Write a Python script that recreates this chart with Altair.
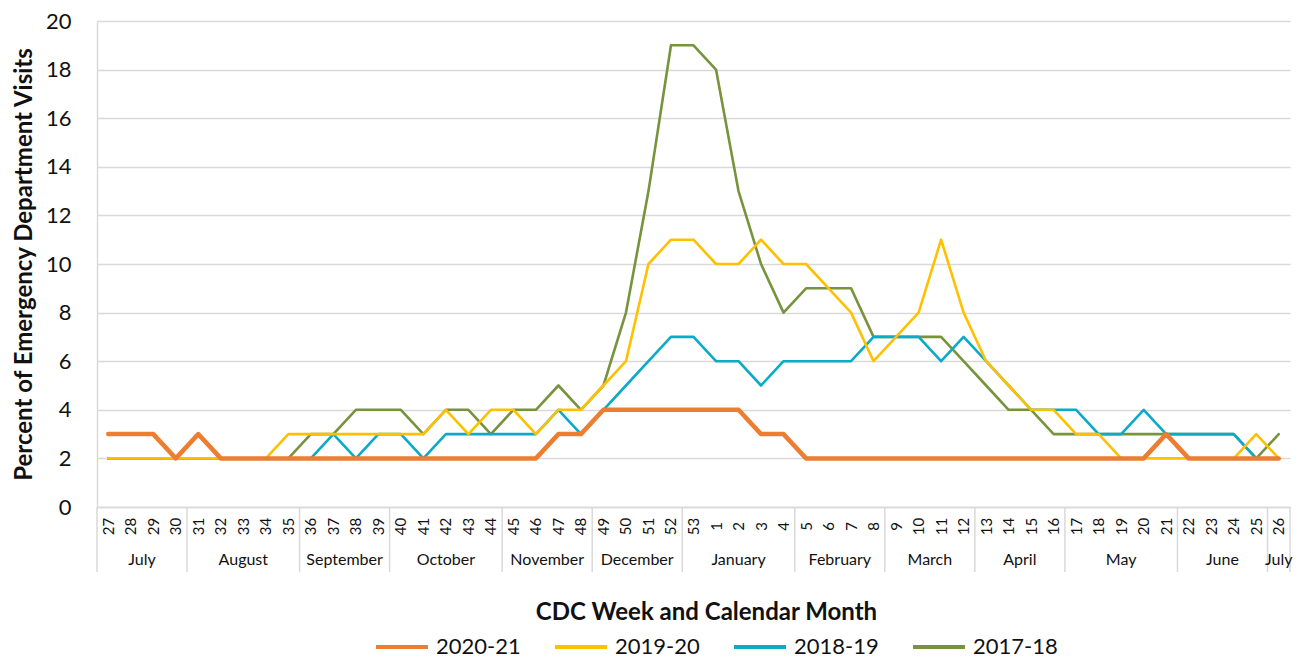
import altair as alt
import pandas as pd

# ---------------- data ----------------
weeks = list(range(27, 54)) + list(range(1, 27))

seasons = ["2020-21", "2019-20", "2018-19", "2017-18"]
colors = ["#ED7D31", "#FFC000", "#0AAAC8", "#77933C"]

s2020_21 = [3, 3, 3, 2,  3, 2, 2, 2, 2,  2, 2, 2, 2,  2, 2, 2, 2, 2,  2, 2, 3, 3,
            4, 4, 4, 4,  4, 4, 4, 3, 3,  2, 2, 2, 2,  2, 2, 2, 2,  2, 2, 2, 2,
            2, 2, 2, 2, 3,  2, 2, 2, 2,  2]
s2019_20 = [2, 2, 2, 2,  2, 2, 2, 2, 3,  3, 3, 3, 3,  3, 3, 4, 3, 4,  4, 3, 4, 4,
            5, 6, 10, 11,  11, 10, 10, 11, 10,  10, 9, 8, 6,  7, 8, 11, 8,  6, 5, 4, 4,
            3, 3, 2, 2, 2,  2, 2, 2, 3,  2]
s2018_19 = [2, 2, 2, 2,  2, 2, 2, 2, 2,  2, 3, 2, 3,  3, 2, 3, 3, 3,  3, 3, 4, 3,
            4, 5, 6, 7,  7, 6, 6, 5, 6,  6, 6, 6, 7,  7, 7, 6, 7,  6, 5, 4, 4,
            4, 3, 3, 4, 3,  3, 3, 3, 2,  2]
s2017_18 = [2, 2, 2, 2,  2, 2, 2, 2, 2,  3, 3, 4, 4,  4, 3, 4, 4, 3,  4, 4, 5, 4,
            5, 8, 13, 19,  19, 18, 13, 10, 8,  9, 9, 9, 7,  7, 7, 7, 6,  5, 4, 4, 3,
            3, 3, 3, 3, 3,  3, 3, 3, 2,  3]

months = ["July", "August", "September", "October", "November", "December",
          "January", "February", "March", "April", "May", "June", "July"]
month_week_counts = [4, 5, 4, 5, 4, 4, 5, 4, 4, 4, 5, 4, 1]

# ---------------- tables ----------------
rows = []
for s, vals in zip(seasons, [s2020_21, s2019_20, s2018_19, s2017_18]):
    for i, (w, v) in enumerate(zip(weeks, vals)):
        rows.append({"idx": i, "week": str(w), "season": s, "value": v})
df = pd.DataFrame(rows)

mrows, brows = [], [{"idx": -0.5}]
start = 0
for m, n in zip(months, month_week_counts):
    mrows.append({"idx": start + (n - 1) / 2, "month": m})
    start += n
    brows.append({"idx": start - 0.5})
mdf = pd.DataFrame(mrows)
bdf = pd.DataFrame(brows)

# ---------------- chart ----------------
W, H = 1193, 486
FONT = "Lato"
TXT = "#111111"
GRID = "#D9D9D9"

label_expr = "[" + ",".join("'%s'" % w for w in weeks) + "][datum.value]"

x_enc = alt.X(
    "idx:Q",
    scale=alt.Scale(domain=[-0.5, 52.5], nice=False, zero=False),
    axis=alt.Axis(
        values=list(range(53)), labelExpr=label_expr, labelAngle=270,
        labelAlign="center", labelBaseline="middle", labelFont=FONT,
        labelFontSize=15, labelColor=TXT, labelPadding=19, labelOverlap=False,
        labelFlush=False, ticks=False, tickSize=0, grid=False,
        domainColor=GRID, domainWidth=1.5,
        title="CDC Week and Calendar Month", titleFont=FONT, titleFontSize=24,
        titleFontWeight="bold", titleColor=TXT, titleX=609, titleY=105,
        titleBaseline="middle",
    ),
)

y_enc = alt.Y(
    "value:Q",
    scale=alt.Scale(domain=[0, 20], nice=False),
    axis=alt.Axis(
        values=list(range(0, 21, 2)), title="Percent of Emergency Department Visits",
        titleFont=FONT, titleFontSize=24, titleFontWeight="bold", titleColor=TXT,
        titlePadding=9, labelFont=FONT, labelFontSize=22, labelColor=TXT,
        labelPadding=26, ticks=False, tickSize=0, domainColor=GRID, domainWidth=1.5,
        grid=True, gridColor=GRID, gridWidth=1.5,
    ),
)

color_enc = alt.Color(
    "season:N",
    scale=alt.Scale(domain=seasons, range=colors),
    legend=alt.Legend(
        title=None, orient="none", legendX=277, legendY=598, direction="horizontal",
        symbolType="stroke", symbolSize=2704, symbolStrokeWidth=4,
        labelFont=FONT, labelFontSize=22, labelColor=TXT, labelOffset=6,
        columnPadding=26, padding=0,
    ),
)

separators = alt.Chart(bdf).mark_rule(color=GRID, strokeWidth=1.5).encode(
    x=x_enc, y=alt.value(H), y2=alt.value(H + 65)
)

month_text = alt.Chart(mdf).mark_text(
    font=FONT, fontSize=16, color=TXT, baseline="middle", align="center"
).encode(x=x_enc, y=alt.value(H + 53), text="month:N")

line_layers = []
for s in reversed(seasons):
    line_layers.append(
        alt.Chart(df)
        .transform_filter(alt.datum.season == s)
        .mark_line(strokeWidth=4.5 if s == "2020-21" else 2.6,
                   strokeCap="round", strokeJoin="round")
        .encode(x=x_enc, y=y_enc, color=color_enc)
    )

chart = (
    alt.layer(separators, month_text, *line_layers)
    .properties(
        width=W, height=H,
        autosize=alt.AutoSizeParams(type="none"),
        padding={"left": 89, "top": 13, "right": 7, "bottom": 152},
        background="white",
    )
    .configure_view(stroke=None)
)

chart.save("out.html", embed_options={"renderer": "svg", "actions": False})
